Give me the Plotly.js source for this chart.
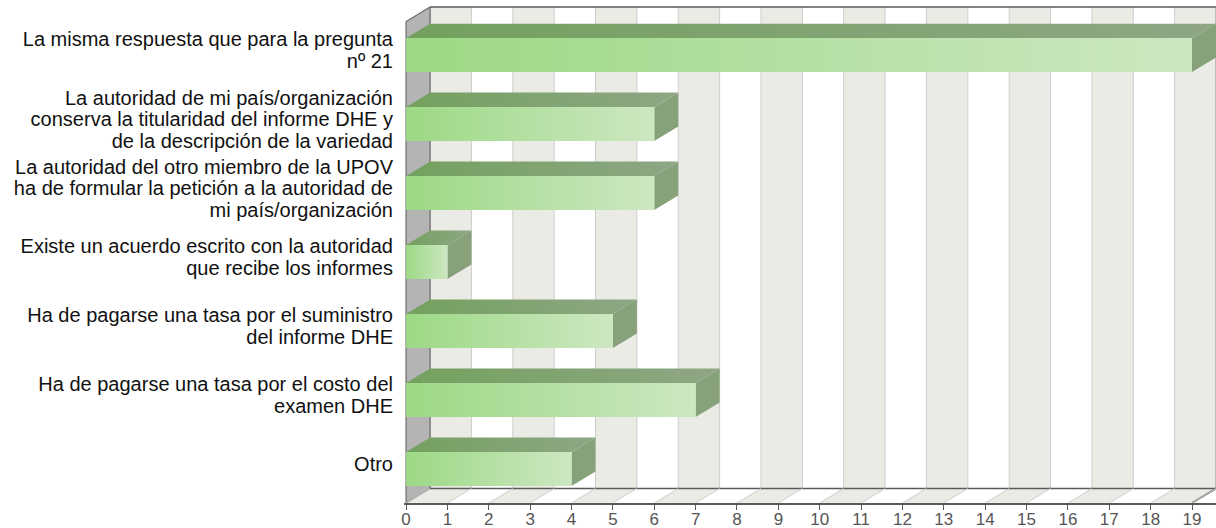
<!DOCTYPE html>
<html><head><meta charset="utf-8">
<script src="https://cdn.plot.ly/plotly-3.0.1.min.js"></script>
<style>html,body{margin:0;padding:0;background:#fff;overflow:hidden}</style>
</head><body><div id="chart" style="width:1216px;height:528px"></div>
<script>
const categories = [
  "La misma respuesta que para la pregunta<br>nº 21",
  "La autoridad de mi país/organización<br>conserva la titularidad del informe DHE y<br>de la descripción de la variedad",
  "La autoridad del otro miembro de la UPOV<br>ha de formular la petición a la autoridad de<br>mi país/organización",
  "Existe un acuerdo escrito con la autoridad<br>que recibe los informes",
  "Ha de pagarse una tasa por el suministro<br>del informe DHE",
  "Ha de pagarse una tasa por el costo del<br>examen DHE",
  "Otro"
];
const values = [19, 6, 6, 1, 5, 7, 4];
const xTickValues = [0,1,2,3,4,5,6,7,8,9,10,11,12,13,14,15,16,17,18,19];
const xTickLabels = ["0","1","2","3","4","5","6","7","8","9","10","11","12","13","14","15","16","17","18","19"];

// 3D styling geometry (styles, not data)
const DX = 0.58, DY = 0.21, H = 0.245;
const LINE_STEP = 0.312;      // spacing of label lines, in category units
const LABEL_SHIFT = -0.07;
const XMAX = xTickValues[xTickValues.length - 1];
const YTOP = -0.696, YBOT = 6.493;
const XRANGE = [-0.05, 19.58];

const traces = [];
function poly(xs, ys, fill, line, extra) {
  const t = {type:'scatter', mode:'lines', x:xs, y:ys, fill:'toself',
    fillcolor:fill, line:line || {width:0}, hoverinfo:'skip', showlegend:false};
  return Object.assign(t, extra || {});
}
function seg(xs, ys, color, width, extra) {
  return Object.assign({type:'scatter', mode:'lines', x:xs, y:ys, line:{color:color, width:width},
    hoverinfo:'skip', showlegend:false}, extra || {});
}

// back wall and floor bands
const bands = {gx:[], gy:[], wx:[], wy:[], fgx:[], fgy:[], fwx:[], fwy:[]};
for (let i = 0; i < XMAX; i++) {
  const bx = [i+DX, i+1+DX, i+1+DX, i+DX, null];
  const by = [YBOT-DY, YBOT-DY, YTOP, YTOP, null];
  const fx = [i, i+1, i+1+DX, i+DX, null];
  const fy = [YBOT, YBOT, YBOT-DY, YBOT-DY, null];
  if (i % 2 === 0) { bands.gx.push(...bx); bands.gy.push(...by); bands.fgx.push(...fx); bands.fgy.push(...fy); }
  else { bands.wx.push(...bx); bands.wy.push(...by); bands.fwx.push(...fx); bands.fwy.push(...fy); }
}
traces.push(poly(bands.gx, bands.gy, '#ebebe6'));
traces.push(poly(bands.wx, bands.wy, '#ffffff'));
traces.push(poly(bands.fgx, bands.fgy, '#ebebe6'));
traces.push(poly(bands.fwx, bands.fwy, '#ffffff'));

// grid lines on back wall
const gx = [], gy = [];
for (const v of xTickValues) { gx.push(v+DX, v+DX, null); gy.push(YBOT-DY, YTOP, null); }
traces.push(seg(gx, gy, '#cdcdcd', 1));
// floor diagonals (drawn on the tick-mark overlay axis, same scale)
const fdx = [], fdy = [];
for (const v of xTickValues) { fdx.push(v, v+DX, null); fdy.push(YBOT, YBOT-DY, null); }
traces.push(seg(fdx, fdy, '#cdcdcd', 1, {xaxis:'x2'}));

// left wall
traces.push(poly([0, DX, DX, 0, 0], [YBOT, YBOT-DY, YTOP, YTOP+DY, YBOT], '#b4b4b4', {color:'#6a6a6a', width:1.2}));

// outlines
traces.push(seg([DX, XMAX+DX], [YTOP, YTOP], '#5a5a5a', 1.5));
traces.push(seg([DX, XMAX+DX], [YBOT-DY, YBOT-DY], '#5a5a5a', 1.5));
traces.push(seg([XMAX, XMAX+DX], [YBOT, YBOT-DY], '#5a5a5a', 1.5));
traces.push(seg([XMAX+DX, XMAX+DX], [YBOT-DY, YTOP], '#9a9a9a', 1));

// bars
values.forEach((v, i) => {
  const c = i;
  traces.push(poly([0, v, v+DX, DX, 0], [c-H, c-H, c-H-DY, c-H-DY, c-H], '#7ea26a', {width:0},
    {fillgradient:{type:'horizontal', colorscale:[[0,'#74a15e'],[1,'#8ea685']]}}));
  traces.push(poly([v, v+DX, v+DX, v, v], [c-H, c-H-DY, c+H-DY, c+H, c-H], '#87a17b'));
  traces.push(poly([0, v, v, 0, 0], [c-H, c-H, c+H, c+H, c-H], '#b4e0a2', {width:0},
    {fillgradient:{type:'horizontal', colorscale:[[0,'#9cd985'],[1,'#cde7c1']]}}));
});

// category labels: one tick per text line so line spacing can match
const yTickVals = [], yTickText = [];
categories.forEach((label, i) => {
  const lines = label.split('<br>');
  lines.forEach((ln, k) => {
    yTickVals.push(i + LABEL_SHIFT + (k - (lines.length - 1) / 2) * LINE_STEP);
    yTickText.push(ln);
  });
});

const layout = {
  width:1216, height:528,
  margin:{l:404, r:0, t:5, b:25, pad:0},
  paper_bgcolor:'#ffffff', plot_bgcolor:'#ffffff',
  showlegend:false,
  xaxis:{range:XRANGE, tickvals:xTickValues, ticktext:xTickLabels,
    ticks:'inside', ticklen:0, ticklabelstandoff:0,
    tickfont:{family:'Liberation Sans, Arial, sans-serif', size:17, color:'#555'},
    showgrid:false, zeroline:false, showline:true, linecolor:'#5a5a5a', linewidth:1.5, fixedrange:true},
  xaxis2:{range:XRANGE, overlaying:'x', anchor:'y', side:'bottom', tickvals:xTickValues,
    showticklabels:false, ticks:'outside', ticklen:6, tickcolor:'#555', tickwidth:1,
    showgrid:false, zeroline:false, showline:false, fixedrange:true},
  yaxis:{range:[YBOT, -0.725], tickvals:yTickVals, ticktext:yTickText,
    ticks:'', ticklabelstandoff:10,
    tickfont:{family:'Liberation Sans, Arial, sans-serif', size:20, color:'#111'},
    showgrid:false, zeroline:false, showline:false, fixedrange:true}
};
Plotly.newPlot('chart', traces, layout, {displayModeBar:false, staticPlot:true});
</script>
</body></html>
